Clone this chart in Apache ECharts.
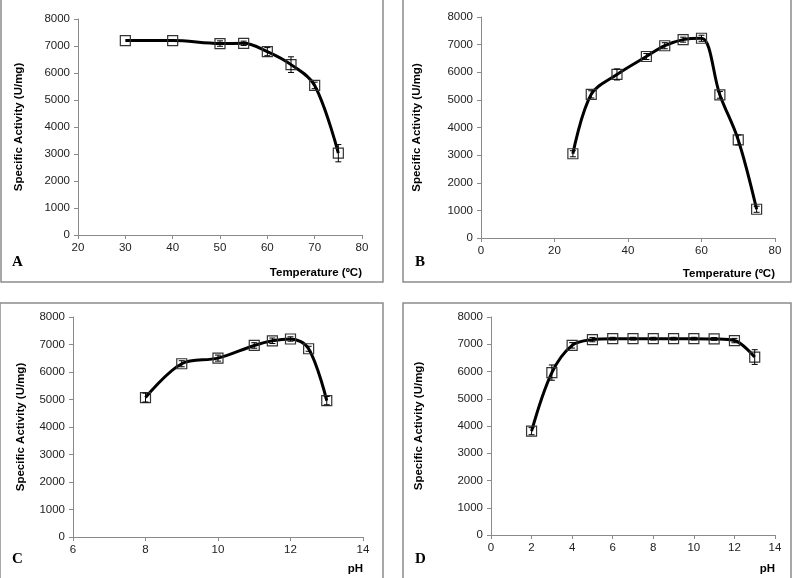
<!DOCTYPE html>
<html>
<head>
<meta charset="utf-8">
<script src="https://cdn.jsdelivr.net/npm/echarts@6/dist/echarts.min.js"></script>
<style>
html,body{margin:0;padding:0;background:#fff;}
#chart{width:796px;height:578px;}
</style>
</head>
<body>
<div id="chart"></div>
<script>
// Panel A: temperature (optimum)
const tempA = [30, 40, 50, 55, 60, 65, 70, 75];
const actA  = [7200, 7200, 7090, 7100, 6790, 6310, 5540, 3030];
const errA  = [0, 0, 100, 80, 150, 290, 120, 320];
// Panel B: temperature (stability)
const tempB = [25, 30, 37, 45, 50, 55, 60, 65, 70, 75];
const actB  = [3050, 5200, 5920, 6570, 6960, 7180, 7230, 5180, 3550, 1040];
const errB  = [110, 130, 200, 110, 110, 90, 110, 120, 180, 110];
// Panel C: pH (optimum)
const phC   = [8, 9, 10, 11, 11.5, 12, 12.5, 13];
const actC  = [5070, 6300, 6505, 6965, 7135, 7200, 6845, 4960];
const errC  = [160, 110, 110, 100, 100, 80, 90, 150];
// Panel D: pH (stability)
const phD   = [2, 3, 4, 5, 6, 7, 8, 9, 10, 11, 12, 13];
const actD  = [3810, 5960, 6960, 7170, 7205, 7205, 7205, 7205, 7205, 7195, 7135, 6530];
const errD  = [130, 280, 100, 80, 50, 50, 50, 50, 50, 50, 80, 270];

const yTicks = [0, 1000, 2000, 3000, 4000, 5000, 6000, 7000, 8000];
const yName = 'Specific Activity (U/mg)';
const panelLetters = ['A', 'B', 'C', 'D'];
const xNames = ['Temperature (ºC)', 'Temperature (ºC)', 'pH', 'pH'];

const panels = [
  {x: tempA, y: actA, e: errA, xmin: 20, xmax: 80, xint: 10},
  {x: tempB, y: actB, e: errB, xmin: 0, xmax: 80, xint: 20},
  {x: phC, y: actC, e: errC, xmin: 6, xmax: 14, xint: 2},
  {x: phD, y: actD, e: errD, xmin: 0, xmax: 14, xint: 2}
];

const grids = [
  {left: 78, top: 19, width: 284, height: 216},
  {left: 481, top: 17, width: 294, height: 221},
  {left: 73, top: 317, width: 290, height: 220},
  {left: 491, top: 317, width: 284, height: 218}
];
const yNameGaps = [53, 58, 46, 66];

const tickFont = {fontFamily: 'Liberation Sans', fontSize: 11.5, color: '#222'};
const axisLineStyle = {color: '#8a8a8a', width: 1};
const plain = v => String(v);

const chart = echarts.init(document.getElementById('chart'), null, {renderer: 'canvas'});

const xAxes = [], yAxes = [], series = [];
panels.forEach((p, i) => {
  xAxes.push({
    gridIndex: i, type: 'value', min: p.xmin, max: p.xmax, interval: p.xint,
    axisLine: {lineStyle: axisLineStyle}, axisTick: {show: true, inside: false, length: 4, lineStyle: axisLineStyle},
    axisLabel: Object.assign({margin: 7, formatter: plain}, tickFont), splitLine: {show: false}
  });
  yAxes.push({
    gridIndex: i, type: 'value', min: yTicks[0], max: yTicks[yTicks.length - 1], interval: yTicks[1] - yTicks[0],
    axisLine: {show: true, lineStyle: axisLineStyle}, axisTick: {show: true, length: 4, lineStyle: axisLineStyle},
    axisLabel: Object.assign({margin: 8, formatter: plain}, tickFont), splitLine: {show: false},
    name: yName, nameLocation: 'middle', nameRotate: 90, nameGap: yNameGaps[i],
    nameTextStyle: {fontFamily: 'Liberation Sans', fontSize: 11.5, fontWeight: 'bold', color: '#000'}
  });
  const data = p.x.map((v, k) => [v, p.y[k]]);
  series.push({
    type: 'line', xAxisIndex: i, yAxisIndex: i, data: data, smooth: 0.35,
    symbol: 'rect', symbolSize: 10,
    lineStyle: {color: '#000', width: 3},
    itemStyle: {color: 'rgba(255,255,255,0)', borderColor: '#333', borderWidth: 1.2},
    z: 2, animation: false
  });
  const edata = p.x.map((v, k) => [v, p.y[k] - p.e[k], p.y[k] + p.e[k]]);
  series.push({
    type: 'custom', xAxisIndex: i, yAxisIndex: i, data: edata, z: 3, animation: false,
    renderItem: function (params, api) {
      const lo = api.coord([api.value(0), api.value(1)]);
      const hi = api.coord([api.value(0), api.value(2)]);
      if (Math.abs(hi[1] - lo[1]) < 1) return null;
      const w = 3;
      const st = {stroke: '#000', lineWidth: 1};
      return {
        type: 'group', children: [
          {type: 'line', shape: {x1: lo[0], y1: lo[1], x2: hi[0], y2: hi[1]}, style: st},
          {type: 'line', shape: {x1: lo[0] - w, y1: lo[1], x2: lo[0] + w, y2: lo[1]}, style: st},
          {type: 'line', shape: {x1: hi[0] - w, y1: hi[1], x2: hi[0] + w, y2: hi[1]}, style: st}
        ]
      };
    }
  });
});

const boxes = [
  {x: 1, y: -2, w: 382, h: 284},
  {x: 403, y: -2, w: 388, h: 284},
  {x: 0, y: 303, w: 383, h: 276},
  {x: 403, y: 303, w: 388, h: 276}
];
const letterPos = [[12, 262], [415, 262], [12, 559], [415, 559]];
const xNamePos = [[362, 273], [775, 274], [363, 569], [775, 569]];

const graphics = [];
boxes.forEach(b => graphics.push({
  type: 'rect', shape: {x: b.x, y: b.y, width: b.w, height: b.h},
  style: {fill: 'none', stroke: '#8c8c8c', lineWidth: 1.5}, z: -1
}));
panelLetters.forEach((t, i) => graphics.push({
  type: 'text', x: letterPos[i][0], y: letterPos[i][1],
  style: {text: t, fontFamily: 'Liberation Serif', fontWeight: 'bold', fontSize: 15, fill: '#000', textVerticalAlign: 'middle', verticalAlign: 'middle'}
}));
xNames.forEach((t, i) => graphics.push({
  type: 'text', x: xNamePos[i][0], y: xNamePos[i][1],
  style: {text: t, fontFamily: 'Liberation Sans', fontWeight: 'bold', fontSize: 11.5, fill: '#000', align: 'right', textAlign: 'right', verticalAlign: 'middle', textVerticalAlign: 'middle'}
}));

chart.setOption({
  backgroundColor: '#fff',
  animation: false,
  grid: grids,
  xAxis: xAxes,
  yAxis: yAxes,
  series: series,
  graphic: graphics
});
</script>
</body>
</html>
